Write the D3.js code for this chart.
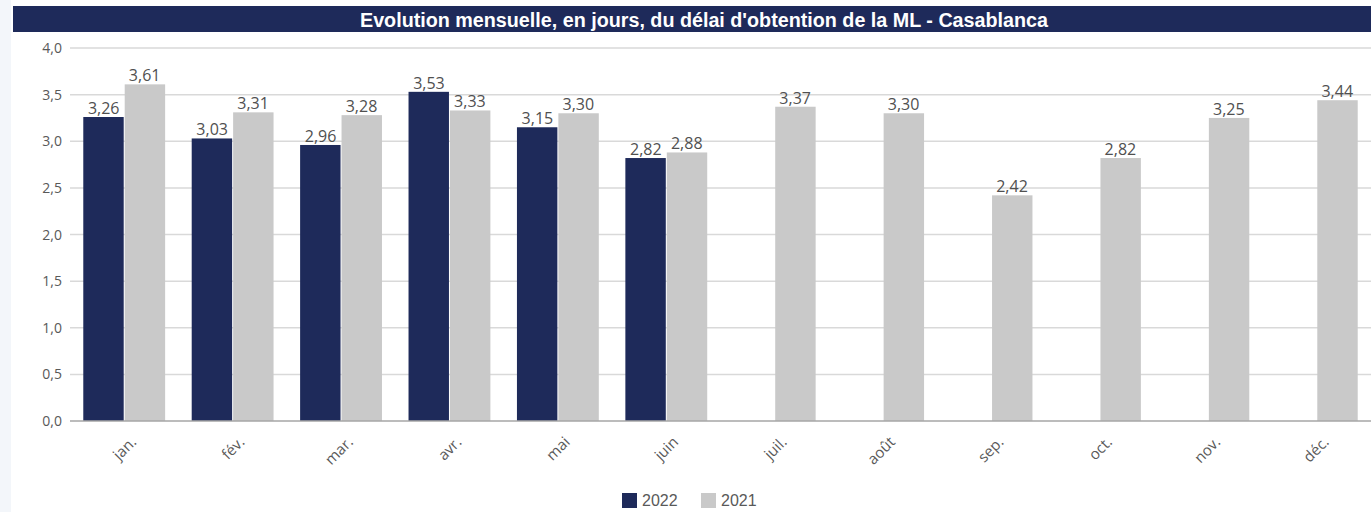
<!DOCTYPE html>
<html>
<head>
<meta charset="utf-8">
<script src="https://cdn.jsdelivr.net/npm/d3@7"></script>
<style>
  body { margin: 0; background: #fff; }
  svg { display: block; }
</style>
</head>
<body>
<script>
const width = 1371;
const height = 512;

// data
const months = ['jan.', 'fév.', 'mar.', 'avr.', 'mai', 'juin', 'juil.', 'août', 'sep.', 'oct.', 'nov.', 'déc.'];
const seriesNames = ['2022', '2021'];
const values2022 = [3.26, 3.03, 2.96, 3.53, 3.15, 2.82, null, null, null, null, null, null];
const values2021 = [3.61, 3.31, 3.28, 3.33, 3.30, 2.88, 3.37, 3.30, 2.42, 2.82, 3.25, 3.44];
const yTicks = [0, 0.5, 1, 1.5, 2, 2.5, 3, 3.5, 4];
const colors = ['#1e2a5a', '#c9c9c9'];

const rows = months.map((m, i) => ({ month: m, vals: [values2022[i], values2021[i]] }));

const margin = { top: 48, right: 0, bottom: 91, left: 70 };

const svg = d3.select('body')
  .append('svg')
  .attr('width', width)
  .attr('height', height);

// faint side strip
svg.append('rect')
  .attr('x', 0).attr('y', 0)
  .attr('width', 11).attr('height', height)
  .attr('fill', '#f3f6fa');

// title bar
svg.append('rect')
  .attr('x', 13).attr('y', 6)
  .attr('width', width - 13).attr('height', 26)
  .attr('fill', '#1e2a5a');

svg.append('text')
  .attr('x', 360).attr('y', 27)
  .attr('textLength', 688)
  .attr('lengthAdjust', 'spacingAndGlyphs')
  .attr('fill', '#fff')
  .style('font-family', '"Liberation Sans", Arial, sans-serif')
  .style('font-weight', 'bold')
  .style('font-size', '20px')
  .text("Evolution mensuelle, en jours, du délai d'obtention de la ML - Casablanca");

const x0 = d3.scaleBand()
  .domain(months)
  .range([margin.left, width - margin.right])
  .paddingInner(0.245)
  .paddingOuter(0.1225);

const x1 = d3.scaleBand()
  .domain(seriesNames)
  .range([0, x0.bandwidth()])
  .padding(0);

const y = d3.scaleLinear()
  .domain([0, 4])
  .range([height - margin.bottom, margin.top]);

// gridlines
svg.append('g')
  .selectAll('line')
  .data(yTicks.filter(d => d > 0))
  .enter()
  .append('line')
  .attr('x1', margin.left).attr('x2', width)
  .attr('y1', d => y(d)).attr('y2', d => y(d))
  .attr('stroke', '#d9d9d9')
  .attr('stroke-width', 1.5);

// y labels
svg.append('g')
  .selectAll('text')
  .data(yTicks)
  .enter()
  .append('text')
  .attr('x', 62)
  .attr('y', d => y(d) + 5)
  .attr('text-anchor', 'end')
  .attr('fill', '#595959')
  .style('font-family', '"Open Sans", sans-serif')
  .style('font-size', '14px')
  .text(d => d3.format('.1f')(d).replace('.', ','));

// bars
const groups = svg.append('g')
  .selectAll('g')
  .data(rows)
  .enter()
  .append('g')
  .attr('transform', d => `translate(${x0(d.month)},0)`);

const cells = groups.selectAll('g')
  .data(d => d.vals.map((v, i) => ({ key: seriesNames[i], v: v, i: i })).filter(e => e.v !== null))
  .enter()
  .append('g');

cells.append('rect')
  .attr('x', d => x1(d.key) + (d.i === 1 ? 0.5 : 0))
  .attr('width', x1.bandwidth() - 0.5)
  .attr('y', d => y(d.v))
  .attr('height', d => y(0) - y(d.v))
  .attr('fill', d => colors[d.i]);

cells.append('text')
  .attr('x', d => x1(d.key) + x1.bandwidth() / 2)
  .attr('y', d => y(d.v) - 3)
  .attr('text-anchor', 'middle')
  .attr('fill', '#505050')
  .style('font-family', '"Open Sans", sans-serif')
  .style('font-size', '16px')
  .text(d => d3.format('.2f')(d.v).replace('.', ','));

// baseline
svg.append('line')
  .attr('x1', margin.left).attr('x2', width)
  .attr('y1', y(0)).attr('y2', y(0))
  .attr('stroke', '#a6a6a6')
  .attr('stroke-width', 1.5);

// x labels
svg.append('g')
  .selectAll('text')
  .data(months)
  .enter()
  .append('text')
  .attr('text-anchor', 'end')
  .attr('fill', '#595959')
  .style('font-family', '"Open Sans", sans-serif')
  .style('font-size', '15px')
  .attr('transform', d => `translate(${x0(d) + x0.bandwidth() / 2 + 13},${y(0) + 22}) rotate(-45)`)
  .text(d => d);

// legend
const legend = svg.append('g')
  .attr('transform', 'translate(622,493)');

const items = legend.selectAll('g')
  .data(seriesNames)
  .enter()
  .append('g')
  .attr('transform', (d, i) => `translate(${i * 79},0)`);

items.append('rect')
  .attr('width', 15).attr('height', 15)
  .attr('fill', (d, i) => colors[i]);

items.append('text')
  .attr('x', 20).attr('y', 13)
  .attr('fill', '#595959')
  .style('font-family', '"Liberation Sans", Arial, sans-serif')
  .style('font-size', '16px')
  .text(d => d);
</script>
</body>
</html>
